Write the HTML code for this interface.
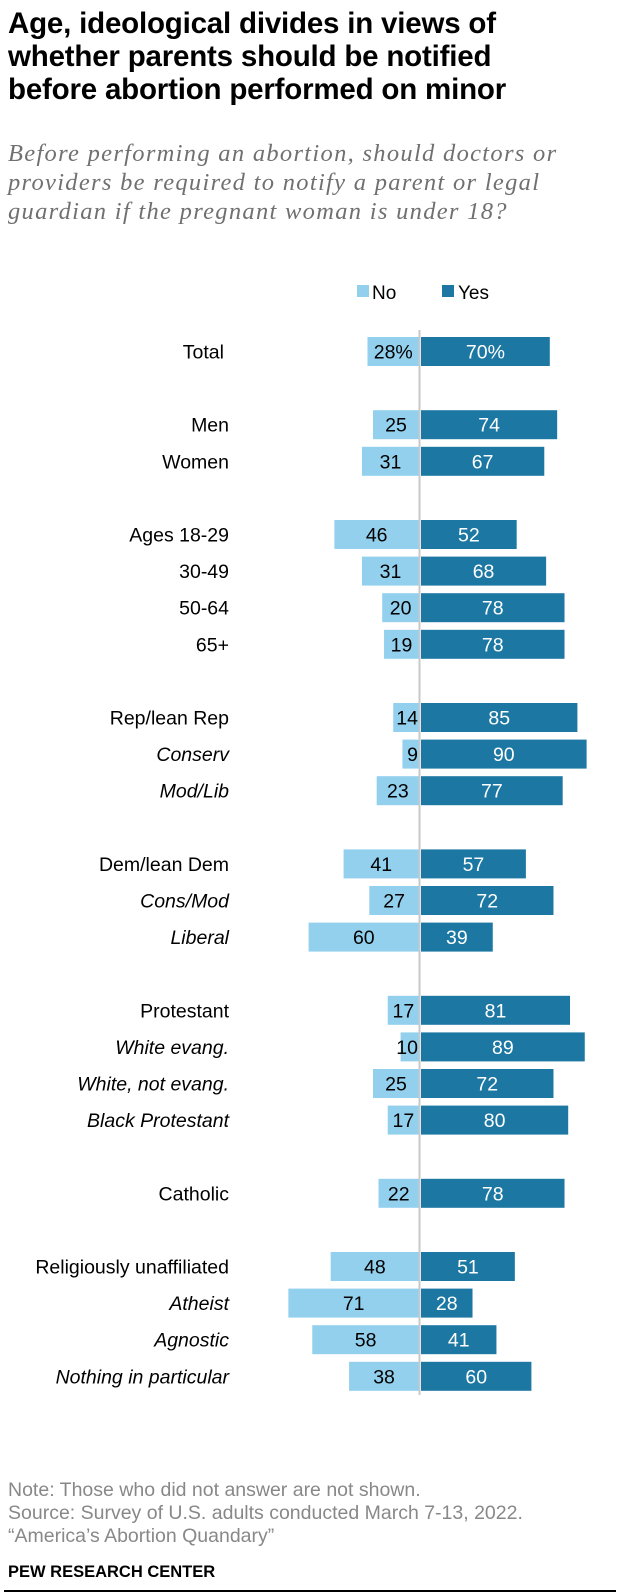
<!DOCTYPE html>
<html><head><meta charset="utf-8"><style>
body{margin:0;width:620px;height:1596px;background:#fff;font-family:"Liberation Sans",sans-serif;position:relative;overflow:hidden}
.t{position:absolute;left:8px;top:7px;font-size:29.5px;font-weight:bold;line-height:33px;color:#000;white-space:nowrap;letter-spacing:-0.2px}
.s{position:absolute;left:8px;top:139px;font-family:"Liberation Serif",serif;font-style:italic;font-size:24.5px;line-height:29px;color:#707070;white-space:nowrap;letter-spacing:1.3px}
.f{position:absolute;left:8px;top:1479px;font-size:19.5px;line-height:23px;color:#888}
.p{position:absolute;left:8px;top:1563px;font-size:16.5px;font-weight:bold;color:#000}
.r{position:absolute;left:4px;top:1590px;width:612px;height:2px;background:#000}
</style></head><body>
<div class="t">Age, ideological divides in views of<br>whether parents should be notified<br>before abortion performed on minor</div>
<div class="s">Before performing an abortion, should doctors or<br>providers be required to notify a parent or legal<br>guardian if the pregnant woman is under 18?</div>
<svg id="c" width="620" height="1440" style="position:absolute;left:0;top:0"></svg>
<div class="f">Note: Those who did not answer are not shown.<br>Source: Survey of U.S. adults conducted March 7-13, 2022.<br>“America’s Abortion Quandary”</div>
<div class="p">PEW RESEARCH CENTER</div>
<div class="r"></div>
<script>
const categories=["Total","Men","Women","Ages 18-29","30-49","50-64","65+","Rep/lean Rep","Conserv","Mod/Lib","Dem/lean Dem","Cons/Mod","Liberal","Protestant","White evang.","White, not evang.","Black Protestant","Catholic","Religiously unaffiliated","Atheist","Agnostic","Nothing in particular"];
const noValues=[28,25,31,46,31,20,19,14,9,23,41,27,60,17,10,25,17,22,48,71,58,38];
const yesValues=[70,74,67,52,68,78,78,85,90,77,57,72,39,81,89,72,80,78,51,28,41,60];
const rowSlots=[0,2,3,5,6,7,8,10,11,12,14,15,16,18,19,20,21,23,25,26,27,28];
const italicRows=[8,9,11,12,14,15,16,19,20,21];
const NS="http://www.w3.org/2000/svg";
const svg=document.getElementById('c');
const axisX=419, scale=1.84, top0=337, pitch=36.6, barH=29;
const xNo=v=>axisX-v*scale, xYes=v=>axisX+2+v*scale, yRow=i=>top0+rowSlots[i]*pitch;
function mk(tag,attrs,txt){const e=document.createElementNS(NS,tag);for(const k in attrs)e.setAttribute(k,attrs[k]);if(txt!=null)e.textContent=txt;svg.appendChild(e);return e;}
let e=mk('rect',{x:357,y:285,width:12,height:12,fill:'#93d0ee'});


e=mk('text',{x:372,y:299,'font-size':19,fill:'#000'},'No');


e=mk('rect',{x:442,y:285,width:12,height:12,fill:'#1c77a3'});


e=mk('text',{x:458,y:299,'font-size':19,fill:'#000'},'Yes');


categories.forEach((c,i)=>{
  const y=yRow(i);
  const lab=mk('text',{x:i==0?224:229,y:y+barH/2+7,'font-size':19.5,'text-anchor':'end',fill:'#000','font-style':italicRows.includes(i)?'italic':'normal'},c);
  
  
  const nb=mk('rect',{x:xNo(noValues[i]),y:y,width:noValues[i]*scale,height:barH,fill:'#93d0ee'});
  
  
  const yb=mk('rect',{x:axisX+2,y:y,width:yesValues[i]*scale,height:barH,fill:'#1c77a3'});
  
  
  const w=noValues[i]*scale;
  const nx=w<26?axisX-1:(xNo(noValues[i])+axisX)/2;
  const nt=mk('text',{x:nx,y:y+barH/2+7,'font-size':19.5,'text-anchor':w<26?'end':'middle',fill:'#000'},noValues[i]+(i==0?'%':''));
  
  
  const yt=mk('text',{x:(axisX+2+xYes(yesValues[i]))/2,y:y+barH/2+7,'font-size':19.5,'text-anchor':'middle',fill:'#fff'},yesValues[i]+(i==0?'%':''));
  
  
});
const ax=mk('line',{x1:axisX+0.5,x2:axisX+0.5,y1:330,y2:1395,stroke:'#c8c8c8','stroke-width':2});


</script>
</body></html>
